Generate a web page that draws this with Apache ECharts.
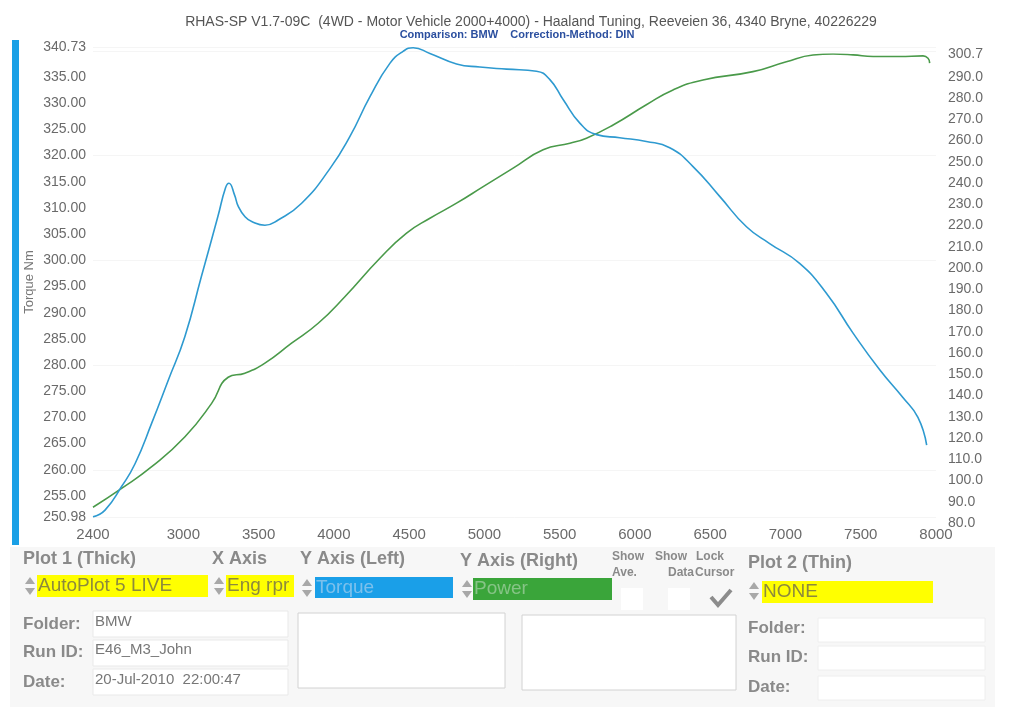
<!DOCTYPE html>
<html>
<head>
<meta charset="utf-8">
<script src="https://cdn.jsdelivr.net/npm/echarts@6/dist/echarts.min.js"></script>
<style>
  html, body { margin: 0; padding: 0; background: #ffffff; }
  #chart { width: 1024px; height: 724px; }
</style>
</head>
<body>
<div id="chart"></div>
<script>
// ---- data ----
var torqueRpm = [2400, 2480, 2590, 2680, 2790, 2900, 3010, 3120, 3230, 3280, 3303, 3340, 3365, 3410, 3454, 3542, 3630, 3786, 3974, 4106, 4239, 4372, 4460, 4527, 4638, 4815, 4970, 5147, 5346, 5435, 5523, 5634, 5745, 5899, 6076, 6231, 6386, 6563, 6741, 6895, 7094, 7272, 7449, 7626, 7780, 7880, 7938];
var torqueNm  = [251.0, 252.3, 256.8, 261.2, 268.9, 277.1, 285.4, 296.9, 308.4, 313.8, 314.7, 312.5, 310.3, 308.3, 307.4, 306.7, 307.7, 310.9, 317.5, 323.6, 331.2, 337.6, 339.9, 340.6, 339.5, 337.5, 336.9, 336.5, 336.1, 334.5, 330.7, 326.2, 324.0, 323.4, 322.7, 321.5, 317.9, 312.2, 306.4, 303.2, 299.4, 293.7, 286.1, 279.1, 273.8, 270.0, 264.7];
var powerRpm  = [2400, 2590, 2790, 3011, 3188, 3298, 3409, 3542, 3719, 3896, 4073, 4306, 4483, 4638, 4815, 4992, 5191, 5390, 5568, 5678, 5855, 6076, 6253, 6452, 6784, 7006, 7183, 7316, 7449, 7582, 7759, 7914, 7947, 7958];
var powerVal  = [87.4, 96.3, 106.5, 120.6, 136.3, 148.6, 150.5, 155.2, 164.6, 174.0, 186.5, 204.6, 216.4, 223.4, 230.5, 238.3, 247.0, 255.6, 258.7, 261.1, 267.3, 276.8, 283.8, 288.5, 292.4, 297.1, 300.2, 300.7, 300.3, 299.5, 299.5, 299.8, 298.7, 296.4];

var xTicks      = [2400, 3000, 3500, 4000, 4500, 5000, 5500, 6000, 6500, 7000, 7500, 8000];
var leftTicks   = [250.98, 255, 260, 265, 270, 275, 280, 285, 290, 295, 300, 305, 310, 315, 320, 325, 330, 335, 340.73];
var rightTicks  = [80, 90, 100, 110, 120, 130, 140, 150, 160, 170, 180, 190, 200, 210, 220, 230, 240, 250, 260, 270, 280, 290, 300.7];

var titleText = 'RHAS-SP V1.7-09C  (4WD - Motor Vehicle 2000+4000) - Haaland Tuning, Reeveien 36, 4340 Bryne, 40226229';
var subText = 'Comparison: BMW    Correction-Method: DIN';

function pairs(xs, ys) { return xs.map(function (x, i) { return [x, ys[i]]; }); }

var FONT = '"Liberation Sans", Arial, sans-serif';
var gray = '#8a8a8a';

// ---- panel decoration ----
var g = [];
function txt(x, y, s, size, weight, color, align) {
  g.push({ type: 'text', x: x, y: y, silent: true, style: { text: s, fill: color, font: (weight || 'normal') + ' ' + size + 'px ' + FONT, align: align || 'left', verticalAlign: 'middle' } });
}
function rect(x, y, w, h, fill, stroke) {
  g.push({ type: 'rect', silent: true, shape: { x: x, y: y, width: w, height: h }, style: { fill: fill, stroke: stroke || null, lineWidth: 1 } });
}
function spinner(x, y) {
  g.push({ type: 'polygon', silent: true, shape: { points: [[x, y - 2], [x + 5, y - 9], [x + 10, y - 2]] }, style: { fill: '#a8a8a8' } });
  g.push({ type: 'polygon', silent: true, shape: { points: [[x, y + 2], [x + 5, y + 9], [x + 10, y + 2]] }, style: { fill: '#a8a8a8' } });
}

// title
txt(531, 22, titleText, 14, 'normal', '#555555', 'center');
txt(517, 35, subText, 11, 'bold', '#2b4f9f', 'center');
// blue left bar
rect(12, 40, 7, 505, '#1aa0e6');
// panel background
rect(10, 547, 985, 160, '#f7f7f7');

// headings
txt(23, 559, 'Plot 1 (Thick)', 18, 'bold', gray);
txt(212, 559, 'X Axis', 18, 'bold', gray);
txt(300, 559, 'Y Axis (Left)', 18, 'bold', gray);
txt(460, 561, 'Y Axis (Right)', 18, 'bold', gray);
txt(612, 557, 'Show', 12, 'bold', gray);
txt(612, 573, 'Ave.', 12, 'bold', gray);
txt(655, 557, 'Show', 12, 'bold', gray);
txt(668, 573, 'Data', 12, 'bold', gray);
txt(696, 557, 'Lock', 12, 'bold', gray);
txt(695, 573, 'Cursor', 12, 'bold', gray);
txt(748, 563, 'Plot 2 (Thin)', 18, 'bold', gray);

// selector boxes
rect(37, 575, 171, 22, '#ffff00');
rect(226, 575, 68, 22, '#ffff00');
rect(315, 577, 138, 21, '#1a9fe8');
rect(473, 578, 139, 22, '#3aa53a');
rect(762, 581, 171, 22, '#ffff00');
spinner(25, 586); spinner(214, 586); spinner(302, 588); spinner(462, 589); spinner(749, 591);
txt(38, 586, 'AutoPlot 5 LIVE', 19, 'normal', '#8d8a3c');
txt(227, 586, 'Eng rpr', 19, 'normal', '#8d8a3c');
txt(316, 588, 'Torque', 19, 'normal', '#7cc0ec');
txt(474, 589, 'Power', 19, 'normal', '#86c486');
txt(763, 592, 'NONE', 19, 'normal', '#8d8a3c');

// checkboxes
rect(621, 588, 22, 22, '#ffffff');
rect(668, 588, 22, 22, '#ffffff');
g.push({ type: 'polyline', silent: true, shape: { points: [[711, 597], [718, 605], [731, 590]] }, style: { stroke: '#8c8c8c', lineWidth: 4, fill: null } });

// left fields
txt(23, 624, 'Folder:', 17, 'bold', gray);
txt(23, 652, 'Run ID:', 17, 'bold', gray);
txt(23, 682, 'Date:', 17, 'bold', gray);
rect(93, 611, 195, 26, '#ffffff', '#e9e9e9');
rect(93, 640, 195, 26, '#ffffff', '#e9e9e9');
rect(93, 669, 195, 26, '#ffffff', '#e9e9e9');
txt(95, 622, 'BMW', 15, 'normal', '#777777');
txt(95, 650, 'E46_M3_John', 15, 'normal', '#777777');
txt(95, 680, '20-Jul-2010  22:00:47', 15, 'normal', '#777777');

// big boxes
rect(298, 613, 207, 75, '#ffffff', '#d2d2d2');
rect(522, 615, 214, 75, '#ffffff', '#d2d2d2');

// right fields
txt(748, 628, 'Folder:', 17, 'bold', gray);
txt(748, 657, 'Run ID:', 17, 'bold', gray);
txt(748, 687, 'Date:', 17, 'bold', gray);
rect(818, 618, 167, 24, '#ffffff', '#eeeeee');
rect(818, 646, 167, 24, '#ffffff', '#eeeeee');
rect(818, 676, 167, 24, '#ffffff', '#eeeeee');

var labelStyle = { color: '#6a6a6a', fontSize: 14, fontFamily: FONT };

var option = {
  backgroundColor: '#ffffff',
  animation: false,
  graphic: g,
  grid: [
    { left: 93, right: 88, top: 47, bottom: 207 },
    { left: 93, right: 88, top: 54, bottom: 201 }
  ],
  xAxis: [
    {
      type: 'value', gridIndex: 0, min: 2400, max: 8000,
      axisLine: { show: false }, axisTick: { show: false },
      axisLabel: Object.assign({}, labelStyle, { customValues: xTicks, margin: 10, fontSize: 15, formatter: function (v) { return String(v); } }),
      splitLine: { show: false }
    },
    {
      type: 'value', gridIndex: 1, min: 2400, max: 8000, show: false
    }
  ],
  yAxis: [
    {
      type: 'value', gridIndex: 0, position: 'left', min: 250.98, max: 340.73,
      name: 'Torque Nm', nameLocation: 'middle', nameGap: 57, nameMoveOverlap: false,
      nameTextStyle: { color: '#777777', fontSize: 13, fontFamily: FONT },
      axisLine: { show: false }, axisTick: { show: false },
      axisLabel: Object.assign({}, labelStyle, { customValues: leftTicks, margin: 7, formatter: function (v) { return v.toFixed(2); } }),
      splitLine: { show: true, lineStyle: { color: '#f5f5f5', width: 1 } }
    },
    {
      type: 'value', gridIndex: 1, position: 'right', min: 80, max: 300.7,
      axisLine: { show: false }, axisTick: { show: false },
      axisLabel: Object.assign({}, labelStyle, { customValues: rightTicks, margin: 12, formatter: function (v) { return v.toFixed(1); } }),
      splitLine: { show: false }
    }
  ],
  series: [
    {
      name: 'Torque', type: 'line', xAxisIndex: 0, yAxisIndex: 0,
      data: pairs(torqueRpm, torqueNm), smooth: 0.5,
      showSymbol: false, lineStyle: { color: '#2e9ad0', width: 1.6 }, z: 3
    },
    {
      name: 'Power', type: 'line', xAxisIndex: 1, yAxisIndex: 1,
      data: pairs(powerRpm, powerVal), smooth: 0.5,
      showSymbol: false, lineStyle: { color: '#4a9a4a', width: 1.6 }, z: 2
    }
  ]
};

var chart = echarts.init(document.getElementById('chart'), null, { renderer: 'canvas' });
chart.setOption(option);
</script>
</body>
</html>
